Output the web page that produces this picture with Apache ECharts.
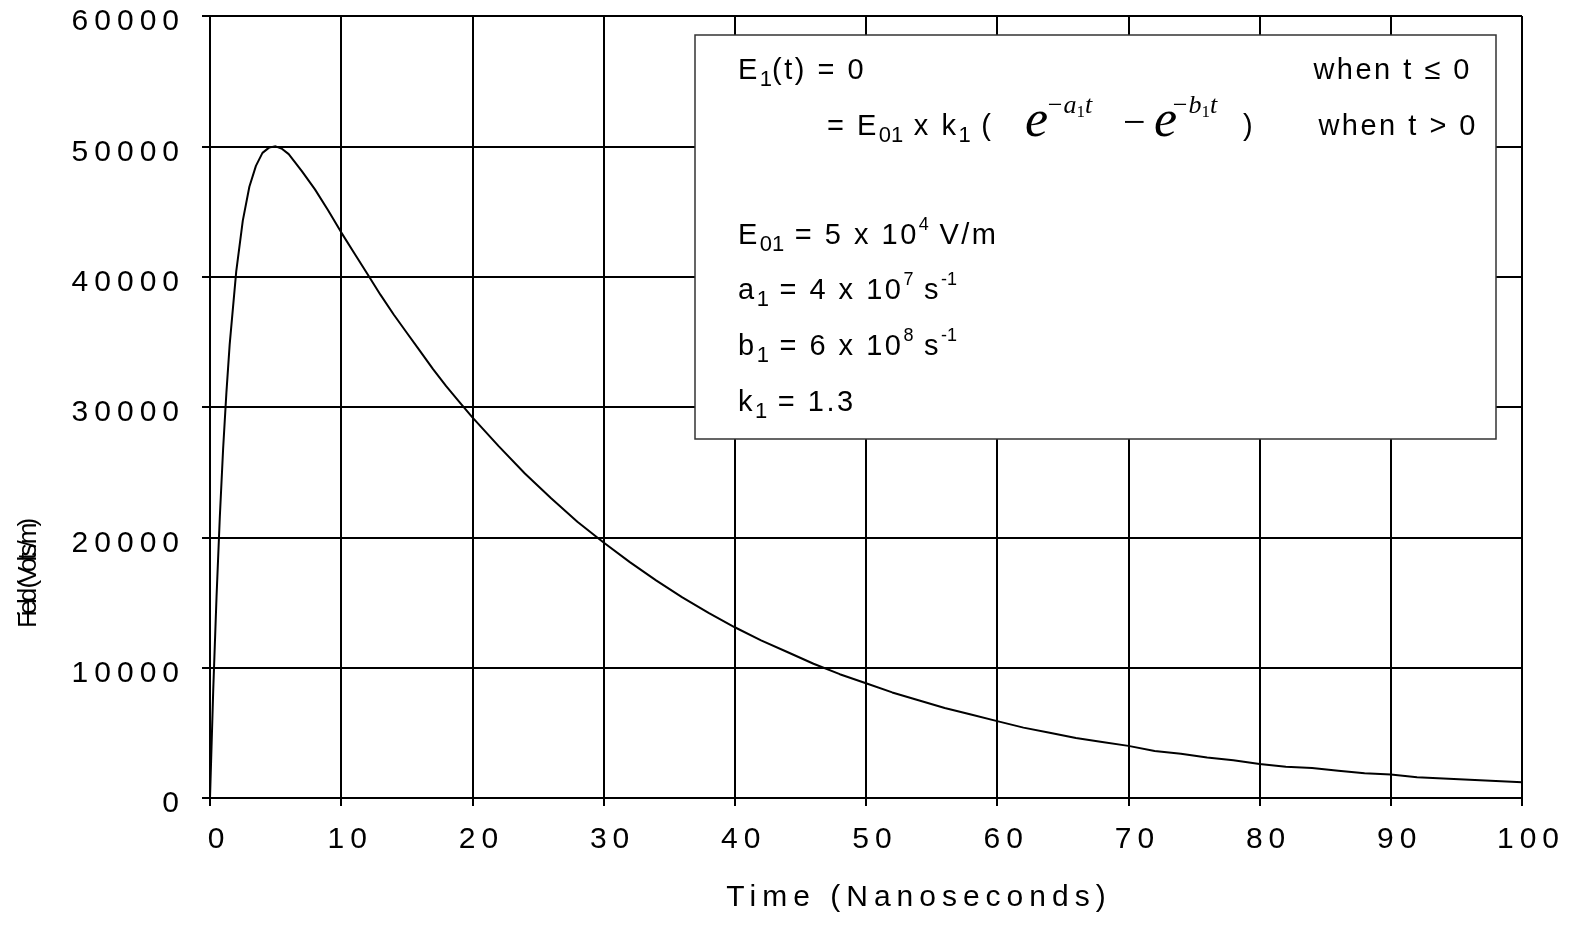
<!DOCTYPE html>
<html>
<head>
<meta charset="utf-8">
<script src="https://cdn.jsdelivr.net/npm/echarts@6/dist/echarts.min.js"></script>
<style>
  html, body { margin: 0; padding: 0; background: #fff; }
  #chart { width: 1576px; height: 926px; }
</style>
</head>
<body>
<div id="chart"></div>
<script>
// ---- data ----
const times = [0,0.25,0.5,0.75,1,1.25,1.5,2,2.5,3,3.5,4,4.5,5,5.5,6,
  7,8,9,10,11,12,13,14,15,16,17,18,19,20,
  22,24,26,28,30,32,34,36,38,40,42,44,46,48,50,52,54,56,58,60,
  62,64,66,68,70,72,74,76,78,80,82,84,86,88,90,92,94,96,98,100];
const field = [0,8400,15500,21600,26800,31100,34800,40400,44300,46900,48500,49500,49900,50000,49800,49400,
  48100,46700,45100,43400,41800,40200,38600,37100,35700,34300,32900,31600,30400,29200,
  27000,24900,23000,21200,19600,18100,16700,15400,14200,13100,
  12100,11200,10300,9500,8800,8100,7500,6900,6400,5900,
  5400,5000,4600,4300,4000,3600,3400,3100,2900,2600,
  2400,2300,2100,1900,1800,1600,1500,1400,1300,1200];
const xRange = [0, 100, 10];
const yRange = [0, 60000, 10000];
const xTitle = 'Time (Nanoseconds)';
const yTitle = 'Field (Volts/m)';

// spaced-out / squeezed lettering like the original (only for specific font sizes)
(function(){
  const P = CanvasRenderingContext2D.prototype;
  if (!('letterSpacing' in P)) return;
  function sp(ctx){
    const f = ctx.font || '';
    if (/(^|\s)30px/.test(f)) return '6px';
    if (/(^|\s)29px/.test(f)) return '2.5px';
    if (/(^|\s)26px/.test(f) && /Sans/.test(f)) return '-4px';
    return '0px';
  }
  function wrap(orig){
    return function(){
      const f = this.font;
      const s = sp(this);
      const prev = this.letterSpacing;
      if (prev !== s) { this.letterSpacing = s; this.font = f; }
      const r = orig.apply(this, arguments);
      if (prev !== s) { this.letterSpacing = prev; this.font = f; }
      return r;
    };
  }
  P.fillText = wrap(P.fillText);
  P.strokeText = wrap(P.strokeText);
  P.measureText = wrap(P.measureText);
})();

const chart = echarts.init(document.getElementById('chart'), null, {renderer: 'canvas'});
const SANS = 'Liberation Sans';
const SERIF = 'Liberation Serif';

const rich = {
  n: {fontSize: 29, fontFamily: SANS, lineHeight: 40, verticalAlign: 'middle', fill: '#000', color: '#000'},
  b: {fontSize: 22, fontFamily: SANS, lineHeight: 24, verticalAlign: 'bottom', fill: '#000', color: '#000'},
  p: {fontSize: 18, fontFamily: SANS, lineHeight: 20, verticalAlign: 'top', fill: '#000', color: '#000'}
};
const supRich = {
  i: {fontSize: 26, fontFamily: SERIF, fontStyle: 'italic', lineHeight: 30, verticalAlign: 'middle', fill: '#000'},
  j: {fontSize: 17, fontFamily: SERIF, lineHeight: 20, verticalAlign: 'bottom', fill: '#000'}
};

function rt(x, y, text, align, r) {
  return {
    type: 'text', z: 101, x: x, y: y,
    style: {
      text: text, rich: r || rich, fill: '#000',
      fontSize: 29, fontFamily: SANS,
      align: align || 'left', textAlign: align || 'left',
      verticalAlign: 'middle', textVerticalAlign: 'middle'
    }
  };
}
function plain(x, y, text, font, align) {
  return {
    type: 'text', z: 101, x: x, y: y,
    style: {text: text, font: font, fill: '#000', align: align || 'left', textAlign: align || 'left',
            verticalAlign: 'middle', textVerticalAlign: 'middle'}
  };
}

const graphics = [
  {type: 'rect', z: 100, shape: {x: 695, y: 35, width: 801, height: 404},
   style: {fill: '#fff', stroke: '#333', lineWidth: 1.5}},
  rt(738, 71, '{n|E}{b|1}{n|(t) = 0}'),
  rt(1472, 71, '{n|when t ≤ 0}', 'right'),
  rt(827, 127, '{n|= E}{b|01}{n| x k}{b|1}{n| (}'),
  plain(1025, 122, 'e', 'italic 52px "Liberation Serif"'),
  rt(1046, 106, '{i|−a}{j|1}{i|t}', 'left', supRich),
  plain(1123, 124, '−', '40px "Liberation Serif"'),
  plain(1154, 122, 'e', 'italic 52px "Liberation Serif"'),
  rt(1171, 106, '{i|−b}{j|1}{i|t}', 'left', supRich),
  rt(1243, 127, '{n|)}'),
  rt(1478, 127, '{n|when t > 0}', 'right'),
  rt(738, 236, '{n|E}{b|01}{n| = 5 x 10}{p|4}{n| V/m}'),
  rt(738, 291, '{n|a}{b|1}{n| = 4 x 10}{p|7}{n| s}{p|-1}'),
  rt(738, 347, '{n|b}{b|1}{n| = 6 x 10}{p|8}{n| s}{p|-1}'),
  rt(738, 403, '{n|k}{b|1}{n| = 1.3}'),
  {type: 'text', z: 101, x: 29, y: 575, rotation: Math.PI / 2,
   style: {text: yTitle, font: '26px "Liberation Sans"', fill: '#000',
           align: 'center', textAlign: 'center', verticalAlign: 'middle', textVerticalAlign: 'middle'}}
];

const axisLine = {show: true, onZero: false, lineStyle: {color: '#000', width: 2}};
const splitLine = {show: true, lineStyle: {color: '#000', width: 2}};

chart.setOption({
  animation: false,
  backgroundColor: '#fff',
  grid: {left: 210, right: 54, top: 16, bottom: 128, containLabel: false},
  xAxis: {
    type: 'value', min: xRange[0], max: xRange[1], interval: xRange[2],
    axisLine: axisLine, splitLine: splitLine,
    axisTick: {show: true, inside: false, length: 8, lineStyle: {color: '#000', width: 2}},
    axisLabel: {color: '#000', fontSize: 30, fontFamily: SANS, margin: 24, padding: [0, 0, 0, 18],
                formatter: v => String(v)},
    name: xTitle, nameLocation: 'middle', nameGap: 82,
    nameTextStyle: {color: '#000', fontSize: 30, fontFamily: SANS, padding: [0, 0, 0, 106]}
  },
  yAxis: {
    type: 'value', min: yRange[0], max: yRange[1], interval: yRange[2],
    axisLine: axisLine, splitLine: splitLine,
    axisTick: {show: true, inside: false, length: 8, lineStyle: {color: '#000', width: 2}},
    axisLabel: {color: '#000', fontSize: 30, fontFamily: SANS, margin: 25,
                verticalAlign: 'top', lineHeight: 12,
                formatter: v => String(v)}
  },
  series: [{
    type: 'line',
    data: times.map((t, i) => [t, field[i]]),
    showSymbol: false,
    smooth: false,
    lineStyle: {color: '#000', width: 2},
    itemStyle: {color: '#000'},
    z: 5
  }],
  graphic: graphics
});
</script>
</body>
</html>
